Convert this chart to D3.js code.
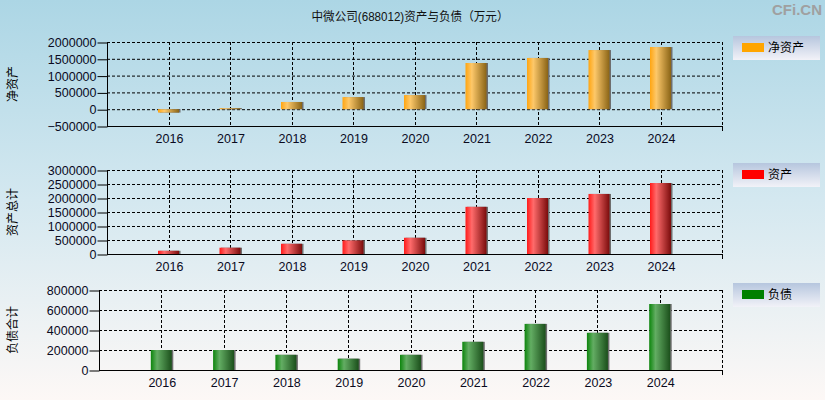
<!DOCTYPE html>
<html>
<head>
<meta charset="utf-8">
<script src="https://cdn.jsdelivr.net/npm/d3@7"></script>
<style>
  body { margin: 0; }
  svg { display: block; font-family: "Liberation Sans", Arial, "Noto Sans CJK SC", sans-serif; }
</style>
</head>
<body>
<div id="chart"></div>
<script>
  const years = [2016, 2017, 2018, 2019, 2020, 2021, 2022, 2023, 2024];
  const netAssets = [-100000, 30000, 215000, 360000, 420000, 1375000, 1525000, 1760000, 1850000];
  const totalAssets = [115000, 225000, 365000, 485000, 580000, 1685000, 2000000, 2145000, 2535000];
  const totalLiabilities = [200000, 200000, 152000, 113000, 152000, 282000, 461000, 372000, 660000];

  const netTicks = [-500000, 0, 500000, 1000000, 1500000, 2000000];
  const assetTicks = [0, 500000, 1000000, 1500000, 2000000, 2500000, 3000000];
  const debtTicks = [0, 200000, 400000, 600000, 800000];

  const svgWidth = 825;
  const svgHeight = 400;

  const svg = d3.select("#chart")
    .append("svg")
    .attr("width", svgWidth)
    .attr("height", svgHeight);

  const defs = svg.append("defs");

  // background
  const bg = defs.append("linearGradient")
    .attr("id", "bg").attr("x1", 0).attr("y1", 0).attr("x2", 0).attr("y2", 1);
  bg.append("stop").attr("offset", "0%").attr("stop-color", "#acd6e5");
  bg.append("stop").attr("offset", "50%").attr("stop-color", "#d4e8f0");
  bg.append("stop").attr("offset", "100%").attr("stop-color", "#fdf8f6");

  svg.append("rect")
    .attr("width", svgWidth)
    .attr("height", svgHeight)
    .attr("fill", "url(#bg)");

  const lg = defs.append("linearGradient")
    .attr("id", "legendBg").attr("x1", 0).attr("y1", 0).attr("x2", 0).attr("y2", 1);
  lg.append("stop").attr("offset", "0%").attr("stop-color", "#b6c6de");
  lg.append("stop").attr("offset", "100%").attr("stop-color", "#f2f2f8");

  function barGradient(id, c1, c2, c3) {
    const g = defs.append("linearGradient")
      .attr("id", id).attr("x1", 0).attr("y1", 0).attr("x2", 1).attr("y2", 0);
    g.append("stop").attr("offset", "0%").attr("stop-color", c1);
    g.append("stop").attr("offset", "30%").attr("stop-color", c2);
    g.append("stop").attr("offset", "100%").attr("stop-color", c3);
  }
  barGradient("gOrange", "#ffa511", "#fdc86a", "#8a6416");
  barGradient("gRed", "#ff1a1a", "#ff6b6b", "#7a0c0c");
  barGradient("gGreen", "#0c850c", "#63ad63", "#1b4f1b");

  // title
  svg.append("text")
    .attr("x", 410)
    .attr("y", 21)
    .attr("text-anchor", "middle")
    .attr("font-size", 12)
    .attr("textLength", 197)
    .attr("lengthAdjust", "spacingAndGlyphs")
    .attr("fill", "#111")
    .text("中微公司(688012)资产与负债（万元）");

  svg.append("text")
    .attr("x", 822)
    .attr("y", 15)
    .attr("text-anchor", "end")
    .attr("font-size", 15)
    .attr("font-weight", "bold")
    .attr("fill", "#a0a0a0")
    .text("CFi.CN");

  const panels = [
    { values: netAssets, ticks: netTicks, label: "净资产", legend: "净资产", swatch: "#ffa500",
      fill: "url(#gOrange)", left: 107, top: 42, bottom: 126, legendY: 36 },
    { values: totalAssets, ticks: assetTicks, label: "资产总计", legend: "资产", swatch: "#ff0000",
      fill: "url(#gRed)", left: 107, top: 170, bottom: 254, legendY: 163 },
    { values: totalLiabilities, ticks: debtTicks, label: "负债合计", legend: "负债", swatch: "#008000",
      fill: "url(#gGreen)", left: 99, top: 290, bottom: 370, legendY: 283 }
  ];

  const right = 722;
  const barWidth = 21;

  panels.forEach(function(p) {
    const xScale = d3.scaleLinear()
      .domain([2015, 2025])
      .range([p.left, right]);

    const yScale = d3.scaleLinear()
      .domain(d3.extent(p.ticks))
      .range([p.bottom, p.top]);

    const g = svg.append("g");

    // grid
    g.selectAll(".hgrid")
      .data(p.ticks.slice(1))
      .enter()
      .append("line")
      .attr("x1", p.left).attr("x2", right)
      .attr("y1", d => yScale(d) + 0.5).attr("y2", d => yScale(d) + 0.5)
      .attr("stroke", "#000")
      .attr("stroke-dasharray", "3,2");

    g.selectAll(".vgrid")
      .data(years.concat([2025]))
      .enter()
      .append("line")
      .attr("x1", d => Math.round(xScale(d)) + 0.5).attr("x2", d => Math.round(xScale(d)) + 0.5)
      .attr("y1", p.top).attr("y2", p.bottom)
      .attr("stroke", "#000")
      .attr("stroke-dasharray", "3,2");

    // bars with a gray shadow on the right
    g.selectAll(".shadow")
      .data(years)
      .enter()
      .append("rect")
      .attr("x", d => xScale(d) - barWidth / 2 + 1.5)
      .attr("y", (d, i) => Math.min(yScale(p.values[i]), yScale(0)))
      .attr("width", barWidth)
      .attr("height", (d, i) => Math.abs(yScale(p.values[i]) - yScale(0)))
      .attr("fill", "#6e6e6e");

    g.selectAll(".bar")
      .data(years)
      .enter()
      .append("rect")
      .attr("x", d => xScale(d) - barWidth / 2)
      .attr("y", (d, i) => Math.min(yScale(p.values[i]), yScale(0)))
      .attr("width", barWidth)
      .attr("height", (d, i) => Math.abs(yScale(p.values[i]) - yScale(0)))
      .attr("fill", p.fill);

    // axes
    const leftAxis = d3.axisLeft(yScale)
      .tickValues(p.ticks)
      .tickFormat(d3.format("d"))
      .tickSize(10)
      .tickPadding(1);

    const bottomAxis = d3.axisBottom(xScale)
      .tickValues(years.concat([2025]))
      .tickFormat(d => d === 2025 ? "" : d)
      .tickSize(0)
      .tickPadding(8);

    const yAxis = g.append("g")
      .attr("transform", `translate(${p.left + 0.5}, 0.5)`)
      .call(leftAxis);

    const xAxis = g.append("g")
      .attr("transform", `translate(0.5, ${p.bottom + 0.5})`)
      .call(bottomAxis);

    xAxis.select(".domain").remove();
    g.append("line")
      .attr("x1", p.left).attr("x2", right + 1)
      .attr("y1", p.bottom + 0.5).attr("y2", p.bottom + 0.5)
      .attr("stroke", "#000");
    g.append("line")
      .attr("x1", right + 0.5).attr("x2", right + 0.5)
      .attr("y1", p.bottom).attr("y2", p.bottom + 5)
      .attr("stroke", "#000");

    yAxis.select(".domain").attr("d", `M0,${p.top - 0.5}V${p.bottom}`);

    [yAxis, xAxis].forEach(function(a) {
      a.selectAll("text")
        .attr("font-size", 12.5)
        .attr("font-family", "Liberation Sans, Arial, sans-serif")
        .attr("fill", "#0a0a1e");
    });

    // y label
    svg.append("text")
      .attr("transform", `translate(17, ${(p.top + p.bottom) / 2}) rotate(-90)`)
      .attr("text-anchor", "middle")
      .attr("font-size", 12)
      .attr("fill", "#000")
      .text(p.label);

    // legend
    const leg = svg.append("g")
      .attr("transform", `translate(733, ${p.legendY})`);
    leg.append("rect")
      .attr("width", 87)
      .attr("height", 24)
      .attr("fill", "url(#legendBg)");
    leg.append("rect")
      .attr("x", 9).attr("y", 7)
      .attr("width", 22).attr("height", 9)
      .attr("fill", p.swatch);
    leg.append("text")
      .attr("x", 35).attr("y", 16)
      .attr("font-size", 12)
      .attr("fill", "#000")
      .text(p.legend);
  });
</script>
</body>
</html>
